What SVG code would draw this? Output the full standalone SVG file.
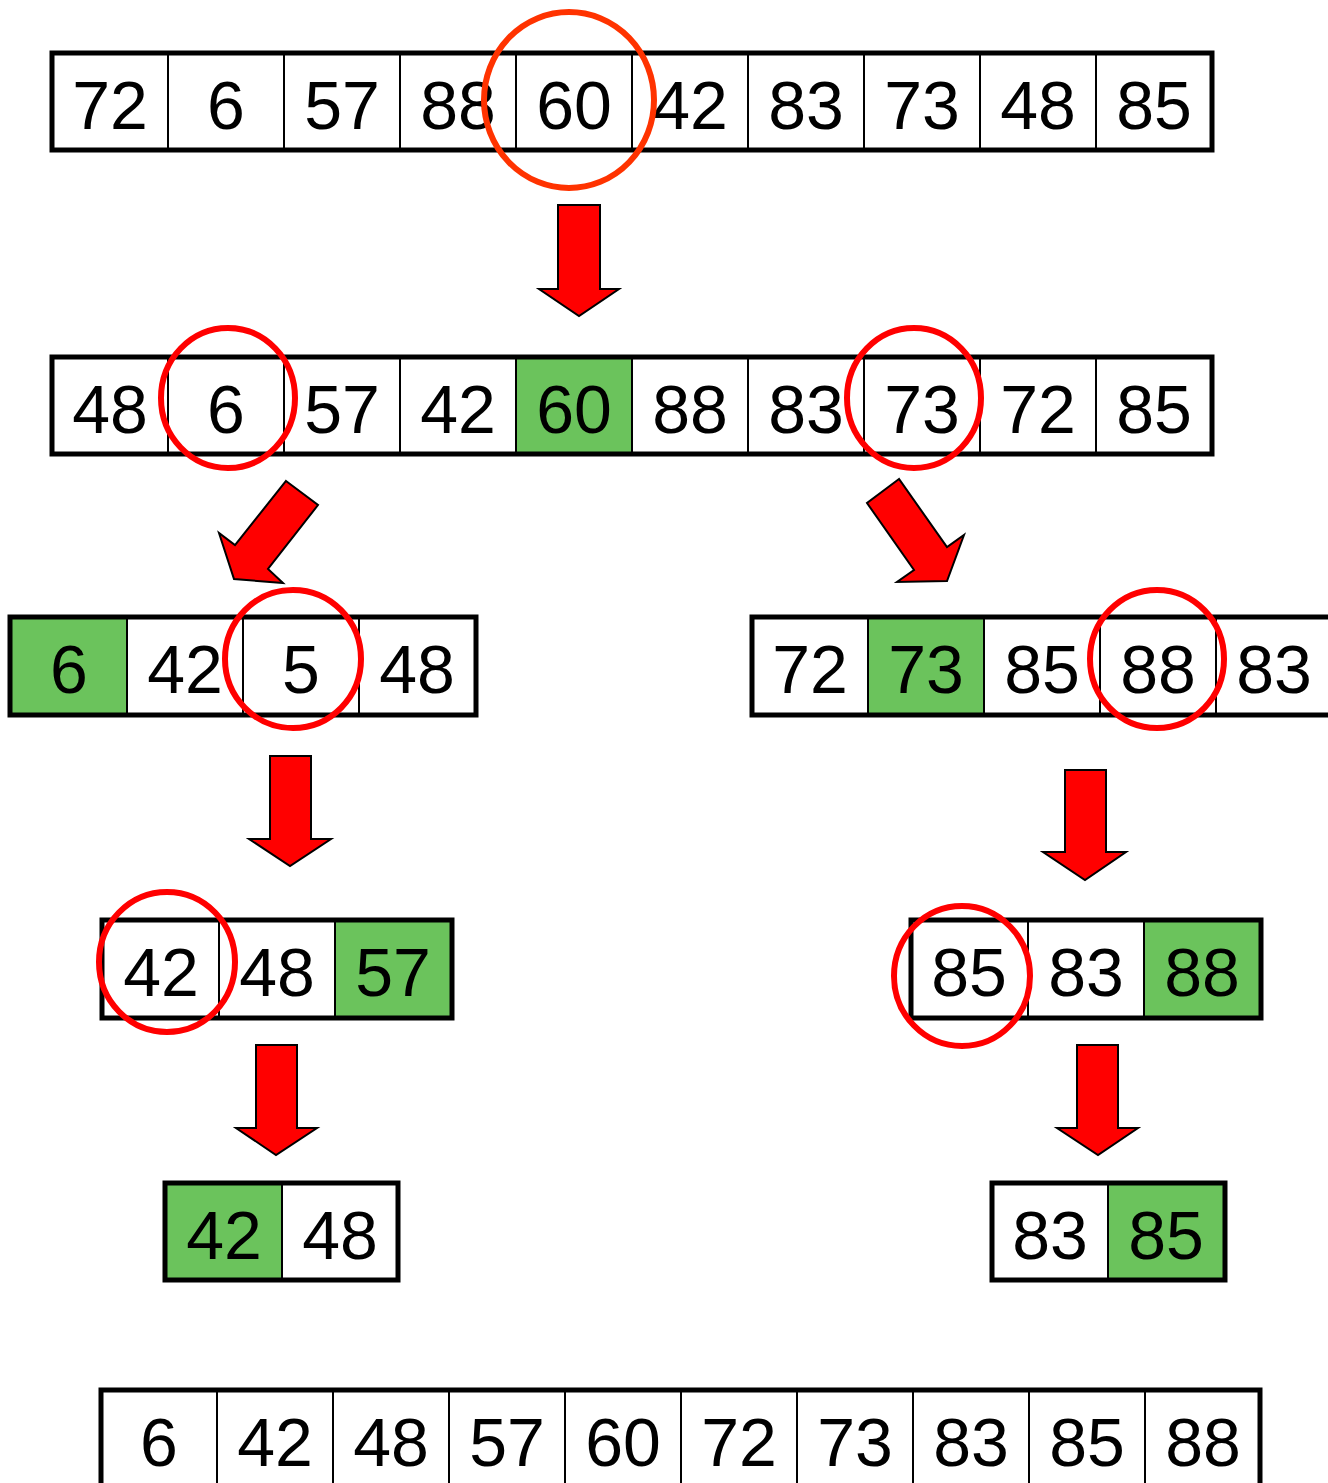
<svg xmlns="http://www.w3.org/2000/svg" width="1328" height="1483" viewBox="0 0 1328 1483">
<style>
.box{fill:none;stroke:#000;stroke-width:5;stroke-linecap:square}
.bg{fill:#fff}
.g{fill:#6BC35C}
.div{stroke:#000;stroke-width:2}
.t{font-family:"Liberation Sans",Arial,sans-serif;font-size:68px;text-anchor:middle;fill:#000}
.c{fill:none;stroke:#FF0000;stroke-width:6}
.c0{fill:none;stroke:#FF3300;stroke-width:6}
.ar{fill:#FF0000;stroke:#000;stroke-width:2;stroke-linejoin:miter}
</style>
<rect width="1328" height="1483" fill="#fff"/>

<g id="connectors">
<polygon class="ar" points="558,205 600,205 600,289 619,289 579,316 539,289 558,289"/>
<polygon class="ar" points="286,481 318,505 268,569 283,583 234,579 219,533 235,545"/>
<polygon class="ar" points="899,479 867,503 914,570 897,582 947,581 964,535 947,547"/>
<polygon class="ar" points="270,756 311,756 311,839 331,839 290,866 249,839 270,839"/>
<polygon class="ar" points="1065,770 1106,770 1106,852 1126,852 1085,880 1043,852 1065,852"/>
<polygon class="ar" points="256,1045 297,1045 297,1128 317,1128 276,1155 236,1128 256,1128"/>
<polygon class="ar" points="1077,1045 1118,1045 1118,1128 1138,1128 1098,1155 1057,1128 1077,1128"/>
</g>

<g id="row1">
<rect class="bg" x="52" y="53" width="1160" height="97"/>
<g class="div">
<line x1="168" y1="53" x2="168" y2="150"/><line x1="284" y1="53" x2="284" y2="150"/><line x1="400" y1="53" x2="400" y2="150"/><line x1="516" y1="53" x2="516" y2="150"/><line x1="632" y1="53" x2="632" y2="150"/><line x1="748" y1="53" x2="748" y2="150"/><line x1="864" y1="53" x2="864" y2="150"/><line x1="980" y1="53" x2="980" y2="150"/><line x1="1096" y1="53" x2="1096" y2="150"/>
</g>
<rect class="box" x="52" y="53" width="1160" height="97"/>
<text class="t" x="110" y="129">72</text><text class="t" x="226" y="129">6</text><text class="t" x="342" y="129">57</text><text class="t" x="458" y="129">88</text><text class="t" x="574" y="129">60</text><text class="t" x="690" y="129">42</text><text class="t" x="806" y="129">83</text><text class="t" x="922" y="129">73</text><text class="t" x="1038" y="129">48</text><text class="t" x="1154" y="129">85</text>
<ellipse class="c0" cx="569" cy="100" rx="85" ry="88"/>
</g>

<g id="row2">
<rect class="bg" x="52" y="357" width="1160" height="97"/>
<rect class="g" x="516" y="357" width="116" height="97"/>
<g class="div">
<line x1="168" y1="357" x2="168" y2="454"/><line x1="284" y1="357" x2="284" y2="454"/><line x1="400" y1="357" x2="400" y2="454"/><line x1="516" y1="357" x2="516" y2="454"/><line x1="632" y1="357" x2="632" y2="454"/><line x1="748" y1="357" x2="748" y2="454"/><line x1="864" y1="357" x2="864" y2="454"/><line x1="980" y1="357" x2="980" y2="454"/><line x1="1096" y1="357" x2="1096" y2="454"/>
</g>
<rect class="box" x="52" y="357" width="1160" height="97"/>
<text class="t" x="110" y="433">48</text><text class="t" x="226" y="433">6</text><text class="t" x="342" y="433">57</text><text class="t" x="458" y="433">42</text><text class="t" x="574" y="433">60</text><text class="t" x="690" y="433">88</text><text class="t" x="806" y="433">83</text><text class="t" x="922" y="433">73</text><text class="t" x="1038" y="433">72</text><text class="t" x="1154" y="433">85</text>
<ellipse class="c" cx="228" cy="398" rx="67" ry="70"/>
<ellipse class="c" cx="914" cy="398" rx="67" ry="70"/>
</g>

<g id="row3-left">
<rect class="bg" x="10" y="617" width="466" height="98"/>
<rect class="g" x="10" y="617" width="117" height="98"/>
<g class="div">
<line x1="127" y1="617" x2="127" y2="715"/><line x1="243" y1="617" x2="243" y2="715"/><line x1="359" y1="617" x2="359" y2="715"/>
</g>
<rect class="box" x="10" y="617" width="466" height="98"/>
<text class="t" x="69" y="693">6</text><text class="t" x="185" y="693">42</text><text class="t" x="301" y="693">5</text><text class="t" x="417" y="693">48</text>
<ellipse class="c" cx="293" cy="659" rx="68" ry="69"/>
</g>

<g id="row3-right">
<rect class="bg" x="752" y="617" width="580" height="98"/>
<rect class="g" x="868" y="617" width="116" height="98"/>
<g class="div">
<line x1="868" y1="617" x2="868" y2="715"/><line x1="984" y1="617" x2="984" y2="715"/><line x1="1100" y1="617" x2="1100" y2="715"/><line x1="1216" y1="617" x2="1216" y2="715"/>
</g>
<rect class="box" x="752" y="617" width="584" height="98"/>
<text class="t" x="810" y="693">72</text><text class="t" x="926" y="693">73</text><text class="t" x="1042" y="693">85</text><text class="t" x="1158" y="693">88</text><text class="t" x="1274" y="693">83</text>
<ellipse class="c" cx="1157" cy="659" rx="67" ry="69"/>
</g>

<g id="row4-left">
<rect class="bg" x="102" y="920" width="350" height="98"/>
<rect class="g" x="335" y="920" width="117" height="98"/>
<g class="div">
<line x1="219" y1="920" x2="219" y2="1018"/><line x1="335" y1="920" x2="335" y2="1018"/>
</g>
<rect class="box" x="102" y="920" width="350" height="98"/>
<text class="t" x="161" y="996">42</text><text class="t" x="277" y="996">48</text><text class="t" x="393" y="996">57</text>
<ellipse class="c" cx="167" cy="962" rx="68" ry="70"/>
</g>

<g id="row4-right">
<rect class="bg" x="911" y="920" width="350" height="98"/>
<rect class="g" x="1144" y="920" width="117" height="98"/>
<g class="div">
<line x1="1028" y1="920" x2="1028" y2="1018"/><line x1="1144" y1="920" x2="1144" y2="1018"/>
</g>
<rect class="box" x="911" y="920" width="350" height="98"/>
<text class="t" x="969" y="996">85</text><text class="t" x="1086" y="996">83</text><text class="t" x="1202" y="996">88</text>
<ellipse class="c" cx="962" cy="976" rx="68" ry="70"/>
</g>

<g id="row5-left">
<rect class="bg" x="165" y="1183" width="233" height="97"/>
<rect class="g" x="165" y="1183" width="117" height="97"/>
<line class="div" x1="282" y1="1183" x2="282" y2="1280"/>
<rect class="box" x="165" y="1183" width="233" height="97"/>
<text class="t" x="224" y="1259">42</text><text class="t" x="340" y="1259">48</text>
</g>

<g id="row5-right">
<rect class="bg" x="992" y="1183" width="233" height="97"/>
<rect class="g" x="1108" y="1183" width="117" height="97"/>
<line class="div" x1="1108" y1="1183" x2="1108" y2="1280"/>
<rect class="box" x="992" y="1183" width="233" height="97"/>
<text class="t" x="1050" y="1259">83</text><text class="t" x="1166" y="1259">85</text>
</g>

<g id="row6">
<rect class="bg" x="101" y="1390" width="1159" height="100"/>
<g class="div">
<line x1="217" y1="1390" x2="217" y2="1490"/><line x1="333" y1="1390" x2="333" y2="1490"/><line x1="449" y1="1390" x2="449" y2="1490"/><line x1="565" y1="1390" x2="565" y2="1490"/><line x1="681" y1="1390" x2="681" y2="1490"/><line x1="797" y1="1390" x2="797" y2="1490"/><line x1="913" y1="1390" x2="913" y2="1490"/><line x1="1029" y1="1390" x2="1029" y2="1490"/><line x1="1145" y1="1390" x2="1145" y2="1490"/>
</g>
<rect class="box" x="101" y="1390" width="1159" height="100"/>
<text class="t" x="159" y="1466">6</text><text class="t" x="275" y="1466">42</text><text class="t" x="391" y="1466">48</text><text class="t" x="507" y="1466">57</text><text class="t" x="623" y="1466">60</text><text class="t" x="739" y="1466">72</text><text class="t" x="855" y="1466">73</text><text class="t" x="971" y="1466">83</text><text class="t" x="1087" y="1466">85</text><text class="t" x="1203" y="1466">88</text>
</g>
</svg>
